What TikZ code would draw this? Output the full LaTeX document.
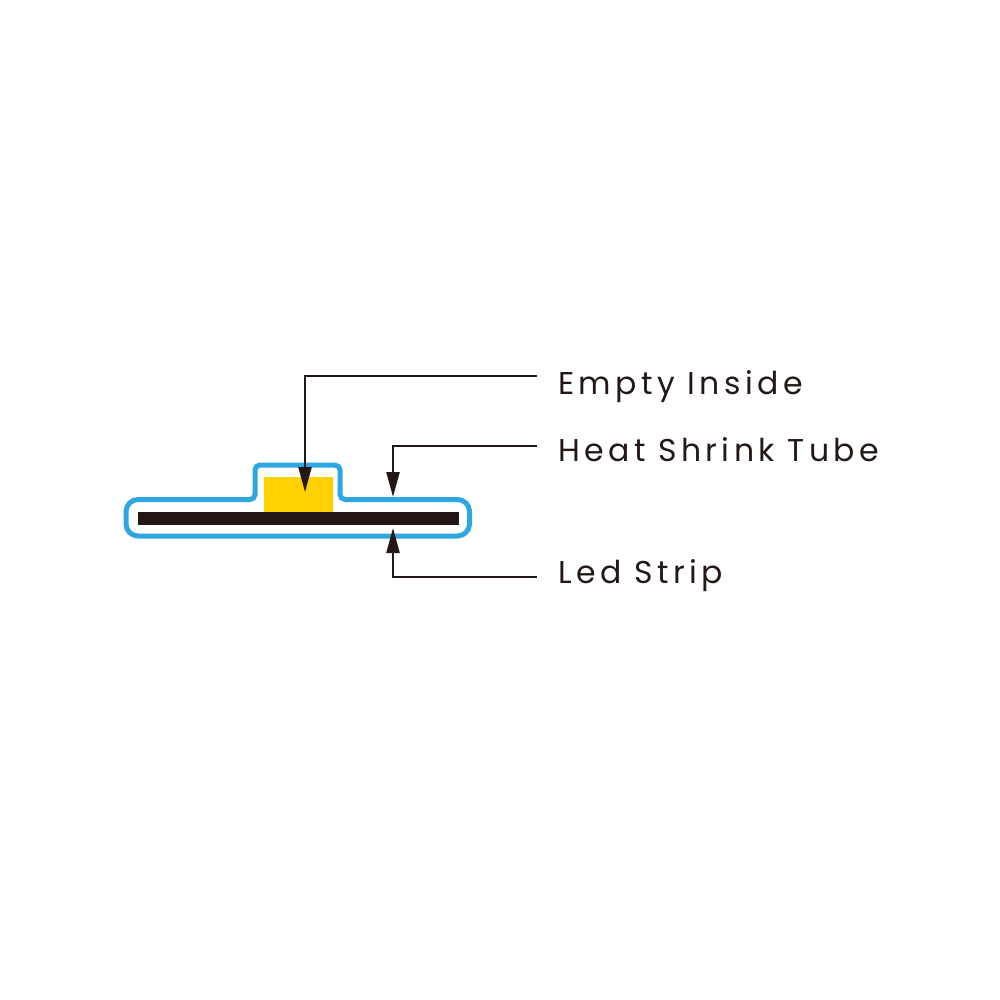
\documentclass[tikz,border=0pt]{standalone}
\usepackage{fontspec}
\setmainfont{Poppins}[LetterSpace=14]
\usetikzlibrary{arrows.meta}
\definecolor{tubeblue}{HTML}{2EA7E0}
\definecolor{ledyellow}{HTML}{FFD100}
\definecolor{inkblack}{HTML}{231815}
\tikzset{
  tube/.style={draw=tubeblue, line width=5pt},
  leader/.style={draw=inkblack, line width=2.4pt, -{Triangle[length=25pt,width=13pt]}},
  lbl/.style={anchor=base west, inner sep=0, text=inkblack, font=\fontsize{31.5}{38}\selectfont}
}
\begin{document}
\begin{tikzpicture}[x=1pt,y=-1pt]
\useasboundingbox (0,0) rectangle (1000,1000);
% tube and strip
\draw[tube] (300,536) [rounded corners=12] -- (126,536) -- (126,499.5) [rounded corners=5] -- (255,499.5) -- (255,465) -- (340,465) -- (340,499.5) [rounded corners=12] -- (469.5,499.5) -- (469.5,536) -- cycle;
\fill[ledyellow] (264,477) rectangle (333,511.5);
\fill[inkblack] (138,511.5) rectangle (459,524.5);
% labels
\node[lbl] (empty) at (558,394) {Empty Inside};
\node[lbl] (heat) at (558,461) {Heat Shrink Tube};
\node[lbl] (led) at (558,583) {Led Strip};
\coordinate (emptyend) at (537,376);
\coordinate (heatend) at (537,446);
\coordinate (ledend) at (537,577);
\coordinate (chip) at (305,492);
\coordinate (tubetop) at (393,497);
\coordinate (stripbot) at (393,528);
\draw[leader] (emptyend) -| (chip);
\draw[leader] (heatend) -| (tubetop);
\draw[leader] (ledend) -| (stripbot);
\end{tikzpicture}
\end{document}
